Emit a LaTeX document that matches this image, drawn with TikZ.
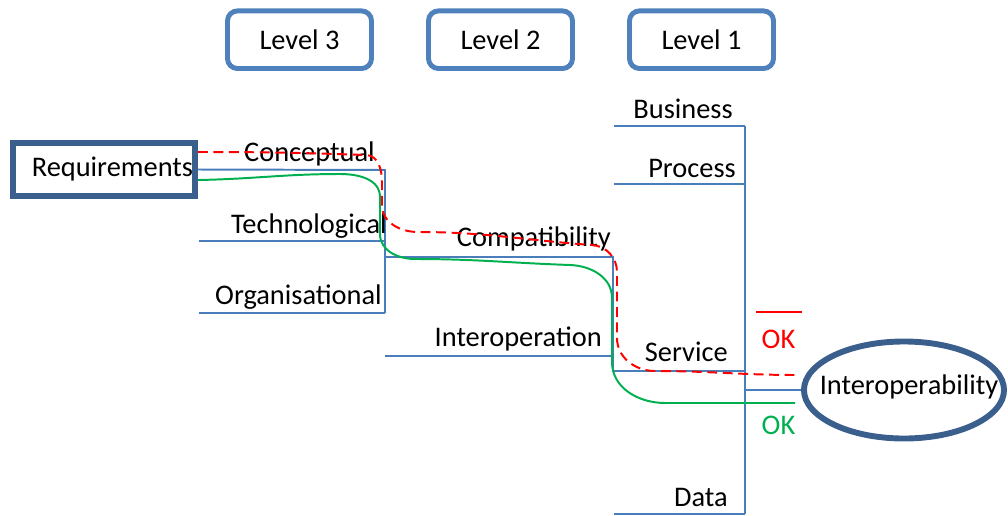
\documentclass[tikz,border=0pt]{standalone}
\usepackage{fontspec}
\setmainfont{Carlito}
\usetikzlibrary{calc}
\usetikzlibrary{shapes.geometric}
\usepackage{xcolor}
\definecolor{lvlblue}{HTML}{4F81BD}
\definecolor{treeblue}{HTML}{4A7EBB}
\definecolor{frameblue}{HTML}{3A5F8C}
\definecolor{okgreen}{HTML}{00B050}

\begin{document}
\begin{tikzpicture}[x=0.025cm, y=-0.025cm, font=\fontsize{20.2}{24}\selectfont,
 levelbox/.style={draw=lvlblue, line width=3.5pt, rounded corners=0.25cm, minimum width=3.6cm, minimum height=1.44cm},
 framebox/.style={draw=frameblue, line width=4.2pt},
 branch/.style={treeblue, line width=1.4pt},
 lbl/.style={anchor=base east, inner sep=0pt},
 okline/.style={okgreen, line width=1.4pt},
 notokline/.style={red, line width=1.4pt, dash pattern=on 7pt off 4pt}]
\useasboundingbox (0,0) rectangle (1008,515);
\foreach \n/\x in {3/299.5, 2/500.5, 1/701.5} {
 \node[levelbox] (level\n) at (\x,39.7) {Level \n};
}
\node[framebox, minimum height=1.325cm, text width=4.45cm, align=right, inner sep=0.05cm] (req) at (104,169.5) {Requirements};
\node[framebox, ellipse, minimum width=5cm, minimum height=2.425cm, inner sep=0pt,
 label={[name=ioptext, xshift=0.125cm, yshift=0.075cm]center:Interoperability}] (iop) at (904,390) {};
\coordinate (l3) at (385,170);
\coordinate (l2) at (613,256.7);
\coordinate (l1) at (745,126);
\draw[branch] (req.east) -- (l3) -- (385,313);
\foreach \y in {241,313} {
 \draw[branch] (199,\y) -- (385,\y);
}
\draw[branch] (385,256.7) -- (l2) -- (613,371) -- (745,371);
\draw[branch] (385,355.7) -- (613,355.7);
\foreach \y in {126,183.7,514} {
 \draw[branch] (614,\y) -- (745,\y);
}
\draw[branch] (l1) -- (745,514);
\draw[branch] (iop.west -| l1) -- (iop.west);
\foreach \txt/\x/\y in {Conceptual/375/161.7, Technological/387/233.3, Organisational/382/304,
 Compatibility/611/246.7, Interoperation/602/346.7,
 Business/733/118.3, Process/736/177.3, Service/728/361.7, Data/728/506.7} {
 \node[lbl] (\txt) at (\x,\y) {\txt};
}
\node[anchor=base, inner sep=0pt, text=red] (nok) at (778.5,348) {OK};
\draw[red, line width=1.4pt] ($(nok.north west)+(-5,-17.5)$) -- ($(nok.north east)+(6,-17.5)$);
\node[anchor=base, inner sep=0pt, text=okgreen] (ok) at (778.5,434) {OK};
\draw[notokline] ($(req.east)+(0,-17.5)$) to[out=0,in=178] (366,155) to[out=-2,in=90] (382,182) -- (382,205)
 to[out=-90,in=180] (418,232) to[out=0,in=176] (592,245) to[out=-4,in=90] (617,272) -- (617,338)
 to[out=-90,in=180] (655,371) to[out=0,in=180] ($(iop.west)+(-4,-15)$);
\draw[okline] ($(req.east)+(0,10.5)$) to[out=1,in=180] (340,174) to[out=0,in=90] (380,197) -- (380,234)
 to[out=-90,in=180] (415,259) to[out=0,in=178] (570,265) to[out=-2,in=90] (612,298) -- (612,362)
 to[out=-90,in=180] (665,403) to[out=0,in=180] ($(iop.west)+(-6,13)$);
\end{tikzpicture}
\end{document}
